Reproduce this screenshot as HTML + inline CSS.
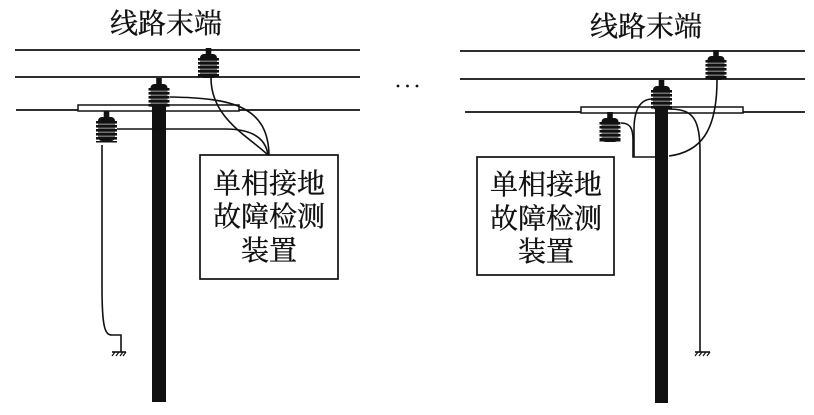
<!DOCTYPE html>
<html><head><meta charset="utf-8"><style>
html,body{margin:0;padding:0;background:#fff;}
svg{display:block;}
text{font-family:"Liberation Serif","Noto Serif CJK SC","Noto Sans CJK SC",serif;fill:#111;stroke:#111;stroke-width:0.35;}
</style></head><body>
<svg width="814" height="415" viewBox="0 0 814 415" xmlns="http://www.w3.org/2000/svg">
<defs>
<g id="ins">
  <rect x="-2.8" y="0" width="5.6" height="9" fill="#111"/>
  <rect x="-8.5" y="6" width="17" height="24" rx="4" fill="#111"/>
  <rect x="-10.5" y="10" width="21" height="2.6" fill="#111"/>
  <rect x="-10.5" y="14" width="21" height="2.6" fill="#111"/>
  <rect x="-10.5" y="18" width="21" height="2.6" fill="#111"/>
  <rect x="-10.5" y="22" width="21" height="2.6" fill="#111"/>
  <rect x="-10.5" y="26" width="21" height="2.6" fill="#111"/>
  <rect x="-10.5" y="12.8" width="21" height="0.6" fill="#fff"/>
  <rect x="-10.5" y="16.8" width="21" height="0.6" fill="#fff"/>
  <rect x="-10.5" y="20.8" width="21" height="0.6" fill="#fff"/>
  <rect x="-10.5" y="24.8" width="21" height="0.6" fill="#fff"/>
</g>
</defs>

<!-- LEFT DIAGRAM -->
<text x="166" y="33" font-size="28" text-anchor="middle">线路末端</text>
<g stroke="#111" stroke-width="1.7" fill="none">
  <path d="M15,50 H360"/>
  <path d="M15,77 H360"/>
  <path d="M16,110 H360"/>
</g>
<rect x="78" y="105" width="161" height="6" fill="#fff" stroke="#111" stroke-width="1.5"/>
<rect x="152" y="95" width="14" height="307" fill="#111"/>
<use href="#ins" transform="translate(159,78)"/>
<use href="#ins" transform="translate(208.5,48)"/>
<use href="#ins" transform="translate(106.5,111)"/>
<rect x="96" y="141" width="21" height="1.5" fill="#111"/>
<g stroke="#111" stroke-width="1.6" fill="none">
  <path d="M170,97 C232,98 268,106 269,155"/>
  <path d="M211,78 C211,118 248,136 268,155"/>
  <path d="M117,129 L225,129 C255,129 266,140 268,155"/>
  <path d="M102,145 L102,287 C102,328 105,335 112,335 L121,335 L121,352"/>
  <path d="M112,352 H126"/>
  <path d="M115,352 l-3,4 M119,352 l-3,4 M123,352 l-3,4 M126,352 l-3,4" stroke-width="1.2"/>
</g>
<rect x="200" y="155" width="138" height="124" fill="#fff" stroke="#111" stroke-width="1.7"/>
<text x="269" y="193" font-size="28" text-anchor="middle">单相接地</text>
<text x="269" y="226" font-size="28" text-anchor="middle">故障检测</text>
<text x="269" y="260" font-size="28" text-anchor="middle">装置</text>

<!-- DOTS -->
<circle cx="398" cy="86" r="1.4" fill="#111"/>
<circle cx="407.5" cy="86" r="1.4" fill="#111"/>
<circle cx="417" cy="86" r="1.4" fill="#111"/>

<!-- RIGHT DIAGRAM -->
<text x="646" y="36" font-size="28" text-anchor="middle">线路末端</text>
<g stroke="#111" stroke-width="1.7" fill="none">
  <path d="M460,51 H805"/>
  <path d="M460,79 H805"/>
  <path d="M465,112 H805"/>
</g>
<rect x="581" y="107" width="162" height="6" fill="#fff" stroke="#111" stroke-width="1.5"/>
<rect x="655" y="97" width="13" height="306" fill="#111"/>
<use href="#ins" transform="translate(661.5,80)"/>
<use href="#ins" transform="translate(716,50)"/>
<use href="#ins" transform="translate(610,112)"/>
<rect x="599.5" y="140" width="21" height="1.5" fill="#111"/>
<g stroke="#111" stroke-width="1.6" fill="none">
  <path d="M621,123 C630,123 633,128 633,140 L633,157 L656,157"/>
  <path d="M651,99 C640,100 634,110 634,130 L634,157"/>
  <path d="M717,80 C717,132 700,152 669,156"/>
  <path d="M668,109 C690,109 700,115 700,150 L700,352"/>
  <path d="M695,352 H710"/>
  <path d="M698,352 l-3,4 M702,352 l-3,4 M706,352 l-3,4 M710,352 l-3,4" stroke-width="1.2"/>
</g>
<rect x="477" y="157" width="137" height="118" fill="#fff" stroke="#111" stroke-width="1.7"/>
<text x="546" y="194" font-size="28" text-anchor="middle">单相接地</text>
<text x="546" y="228" font-size="28" text-anchor="middle">故障检测</text>
<text x="546" y="261" font-size="28" text-anchor="middle">装置</text>
</svg>
</body></html>
